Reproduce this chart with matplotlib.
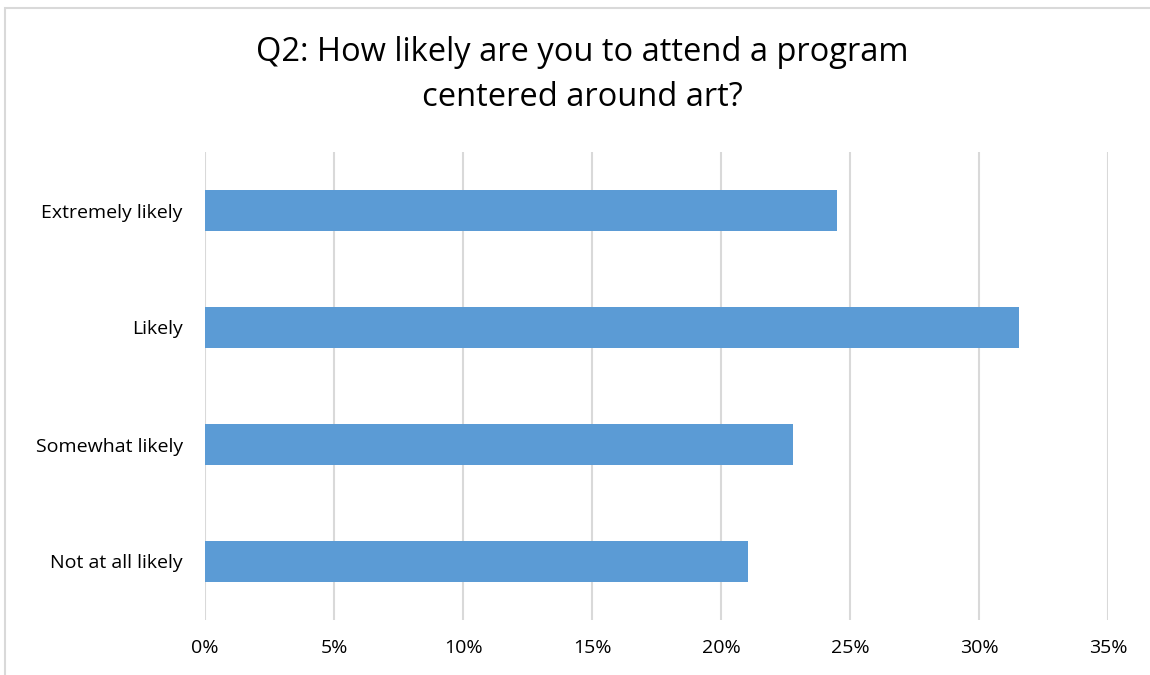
import numpy as np
import matplotlib
matplotlib.use('Agg')
from matplotlib import pyplot as plt
from matplotlib.ticker import FuncFormatter
from matplotlib.patches import Rectangle

# Data
categories = ['Extremely likely', 'Likely', 'Somewhat likely', 'Not at all likely']
values = [24.5, 31.55, 22.8, 21.05]
ticks = [0, 5, 10, 15, 20, 25, 30, 35]

plt.rcParams['font.family'] = ['Open Sans', 'DejaVu Sans']

fig = plt.figure(figsize=(11.5, 6.75), dpi=100)
ax = fig.add_axes([205/1150, 1 - 620/675, (1108 - 205)/1150, (620 - 152)/675])

# outer chart border
fig.patches.append(Rectangle((5/1150, -0.1), 1.2, 1 - 8/675 + 0.1, transform=fig.transFigure,
                             fill=False, edgecolor='#D9D9D9', linewidth=1.5))

y = np.arange(len(categories))
ax.barh(y, values, height=0.35, color='#5B9BD5', zorder=3)
ax.set_ylim(len(categories) - 0.5, -0.5)
ax.set_xlim(0, 35)
ax.set_xticks(ticks)
ax.xaxis.set_major_formatter(FuncFormatter(lambda v, p: f'{v:.0f}%'))
ax.set_yticks(y)
ax.set_yticklabels(categories)
ax.grid(axis='x', color='#D9D9D9', linewidth=1.5, zorder=0)
for s in ax.spines.values():
    s.set_visible(False)
ax.tick_params(axis='both', length=0, labelsize=14, colors='#000000')
ax.tick_params(axis='x', pad=14)
ax.tick_params(axis='y', pad=16)

fig.text(582/1150, 1 - 75/675, 'Q2: How likely are you to attend a program\ncentered around art?',
         ha='center', va='center', fontsize=23.5, linespacing=1.45, color='#000000')

fig.savefig('out.png', dpi=100)
